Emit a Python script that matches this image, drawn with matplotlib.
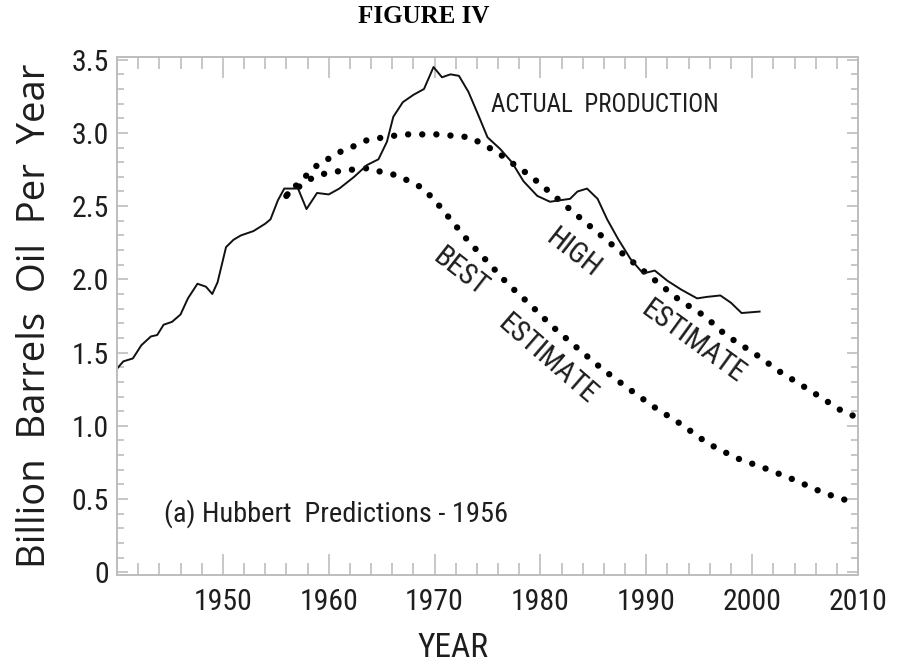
import matplotlib
matplotlib.use("Agg")
import matplotlib.pyplot as plt
from matplotlib.ticker import MultipleLocator, FixedLocator

# actual US production (billion barrels / year)
actual_years = [1940.0, 1940.6, 1941.5, 1942.3, 1943.2, 1943.8, 1944.4, 1945.2, 1946.0,
                1946.7, 1947.6, 1948.4, 1949.0, 1949.5, 1950.3, 1951.0, 1951.7, 1952.9,
                1954.0, 1954.5, 1955.2, 1955.8, 1957.1, 1957.9, 1958.9, 1960.0, 1961.0,
                1962.4, 1963.6, 1964.7, 1965.5, 1966.1, 1967.0, 1968.0, 1969.0, 1969.9,
                1970.7, 1971.5, 1972.3, 1973.2, 1974.2, 1975.0, 1976.2, 1977.3, 1978.4,
                1979.7, 1980.9, 1982.8, 1983.5, 1984.4, 1985.4, 1986.3, 1987.3, 1988.5,
                1989.7, 1990.8, 1992.0, 1993.3, 1994.8, 1995.7, 1997.0, 1998.0, 1999.0,
                2000.7]
actual_prod = [1.39, 1.44, 1.46, 1.55, 1.61, 1.62, 1.69, 1.71, 1.76,
               1.87, 1.97, 1.95, 1.90, 1.98, 2.22, 2.27, 2.30, 2.33,
               2.38, 2.41, 2.54, 2.62, 2.62, 2.48, 2.59, 2.58, 2.62,
               2.70, 2.78, 2.82, 2.94, 3.11, 3.21, 3.26, 3.30, 3.45,
               3.38, 3.40, 3.39, 3.28, 3.11, 2.97, 2.89, 2.80, 2.67,
               2.57, 2.53, 2.55, 2.60, 2.62, 2.55, 2.41, 2.28, 2.14,
               2.04, 2.06, 1.99, 1.93, 1.87, 1.88, 1.89, 1.84, 1.77,
               1.78]

# Hubbert 1956 high estimate
high_years = [1956.0, 1957.3, 1958.2, 1959.2, 1960.2, 1961.3, 1962.4, 1963.6, 1965.2,
              1967.0, 1970.3, 1973.4, 1974.6, 1975.9, 1977.2, 1978.8, 1980.0, 1982.1,
              1984.4, 1987.2, 1990.2, 1993.1, 1995.5, 1997.5, 2000.3, 2002.6, 2005.5,
              2008.5, 2009.5]
high_est = [2.57, 2.67, 2.73, 2.80, 2.83, 2.88, 2.91, 2.95, 2.97,
            2.99, 2.99, 2.97, 2.92, 2.87, 2.80, 2.72, 2.65, 2.52,
            2.38, 2.21, 2.03, 1.86, 1.75, 1.62, 1.49, 1.37, 1.24,
            1.10, 1.07]

# Hubbert 1956 best estimate
best_years = [1956.1, 1958.6, 1960.0, 1962.3, 1963.8, 1965.1, 1966.5, 1968.7, 1969.9,
              1971.5, 1973.2, 1975.0, 1976.9, 1979.0, 1981.1, 1983.5, 1985.8, 1988.2,
              1990.7, 1993.3, 1995.8, 1998.5, 2001.2, 2004.0, 2006.8, 2009.4]
best_est = [2.58, 2.70, 2.73, 2.75, 2.76, 2.73, 2.71, 2.63, 2.55,
            2.41, 2.26, 2.12, 1.97, 1.83, 1.68, 1.53, 1.39, 1.26,
            1.13, 1.01, 0.88, 0.78, 0.71, 0.63, 0.54, 0.48]

x_ticks = [1950, 1960, 1970, 1980, 1990, 2000, 2010]
y_ticks = [0, 0.5, 1.0, 1.5, 2.0, 2.5, 3.0, 3.5]
y_tick_labels = ["0", "0.5", "1.0", "1.5", "2.0", "2.5", "3.0", "3.5"]

NARROW = "Roboto Condensed"   # stands in for the squeezed Myriad of the original
WIDE = "Open Sans"
TXT = "#1e1e1e"
GRID_GREY = "#bdbdbd"

fig = plt.figure(figsize=(9.07, 6.68), dpi=100)
ax = fig.add_axes([0.129, 0.139, 0.817, 0.776])

dots = dict(color="black", linewidth=4.6, linestyle=(0, (0.01, 2.2)),
            dash_capstyle="round", solid_capstyle="round")
ax.plot(high_years, high_est, **dots)
ax.plot(best_years, best_est, **dots)
ax.plot(actual_years, actual_prod, color="#111111", linewidth=1.4)

ax.set_xlim(1940, 2010)
ax.set_ylim(-0.02, 3.52)

ax.xaxis.set_major_locator(FixedLocator(x_ticks))
ax.xaxis.set_minor_locator(MultipleLocator(2))
ax.yaxis.set_major_locator(FixedLocator(y_ticks))
ax.yaxis.set_minor_locator(MultipleLocator(0.1))
ax.set_yticklabels(y_tick_labels)

for s in ax.spines.values():
    s.set_color(GRID_GREY)
    s.set_linewidth(1.4)

ax.tick_params(axis="both", which="both", direction="in", top=True, right=True,
               color=GRID_GREY, width=1.2, labelcolor=TXT)
ax.tick_params(axis="x", which="major", length=15, pad=9)
ax.tick_params(axis="x", which="minor", length=8.5)
ax.tick_params(axis="y", which="major", length=8, pad=6)
ax.tick_params(axis="y", which="minor", length=5)
for lab in ax.get_xticklabels() + ax.get_yticklabels():
    lab.set_fontfamily(NARROW)
    lab.set_fontsize(21.5)

ax.set_ylabel("Billion  Barrels  Oil  Per  Year", fontfamily=WIDE, fontsize=27.5,
              color=TXT)
ax.yaxis.set_label_coords(-0.085, 0.5)
fig.text(0.4995, 0.030, "YEAR", ha="center", va="center",
         fontfamily=NARROW, fontsize=24, color=TXT)

fig.text(0.467, 0.975, "FIGURE IV", ha="center", va="center",
         fontfamily="Liberation Serif", fontweight="bold", fontsize=18, color="black")

ax.text(1975.3, 3.19, "ACTUAL  PRODUCTION", ha="left", va="center",
        fontfamily=NARROW, fontsize=18, color=TXT)
ax.text(1944.4, 0.40, "(a) Hubbert  Predictions - 1956", ha="left", va="center",
        fontfamily=NARROW, fontsize=20.4, color=TXT)

lbl = dict(ha="center", va="center", fontfamily=NARROW, fontsize=21, color=TXT,
           rotation_mode="anchor")
ax.text(1972.5, 2.05, "BEST", rotation=-38, **lbl)
ax.text(1980.7, 1.45, "ESTIMATE", rotation=-41, **lbl)
ax.text(1983.1, 2.18, "HIGH", rotation=-38, **lbl)
ax.text(1994.4, 1.57, "ESTIMATE", rotation=-36, **lbl)

fig.savefig("out.png", dpi=100)
